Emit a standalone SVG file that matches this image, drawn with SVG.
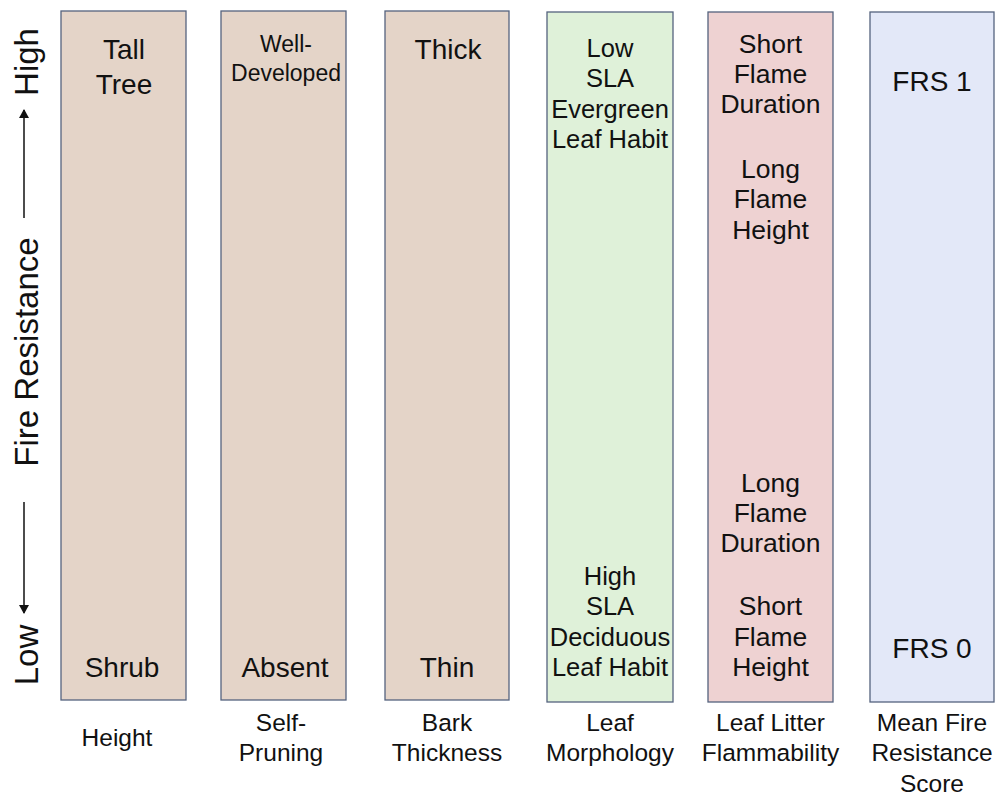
<svg xmlns="http://www.w3.org/2000/svg" width="999" height="798" viewBox="0 0 999 798">
<style>
text{font-family:"Liberation Sans",Arial,sans-serif;fill:#111;text-anchor:middle}
.col{stroke:#55637e;stroke-width:1.3}
.tan{fill:#e4d4c8}.grn{fill:#dff1d9}.pnk{fill:#eed2d2}.blu{fill:#e3e8f8}
.t28{font-size:28px}.t25{font-size:25.5px}.t26{font-size:26.5px}.t21{font-size:23px}.lab{font-size:24.5px}.ax{font-size:33px}
.arr{stroke:#111;stroke-width:1.5;fill:none}
</style>
<defs>
<marker id="ah" markerWidth="10" markerHeight="10" refX="8" refY="5" orient="auto" markerUnits="userSpaceOnUse">
<path d="M0,0 L9,5 L0,10 Z" fill="#111"/>
</marker>
</defs>
<g id="axis">
<text class="ax" transform="translate(38,62) rotate(-90)">High</text>
<text class="ax" transform="translate(38,352) rotate(-90)">Fire Resistance</text>
<text class="ax" transform="translate(38,655) rotate(-90)">Low</text>
</g>
<g id="connectors">
<line class="arr" x1="24" y1="218" x2="24" y2="110" marker-end="url(#ah)"/>
<line class="arr" x1="24" y1="502" x2="24" y2="613" marker-end="url(#ah)"/>
</g>
<g id="height">
<rect class="col tan" x="61" y="11" width="125" height="689"/>
<text class="t28" x="124" y="59">Tall</text>
<text class="t28" x="124" y="94">Tree</text>
<text class="t28" x="122" y="677">Shrub</text>
<text class="lab" x="117" y="746">Height</text>
</g>
<g id="self-pruning">
<rect class="col tan" x="221" y="11" width="125" height="689"/>
<text class="t21" x="286" y="52">Well-</text>
<text class="t21" x="286" y="81">Developed</text>
<text class="t28" x="285" y="677">Absent</text>
<text class="lab" x="281" y="731">Self-</text>
<text class="lab" x="281" y="761">Pruning</text>
</g>
<g id="bark">
<rect class="col tan" x="385" y="11" width="124" height="689"/>
<text class="t28" x="448" y="59">Thick</text>
<text class="t28" x="447" y="677">Thin</text>
<text class="lab" x="447" y="731">Bark</text>
<text class="lab" x="447" y="761">Thickness</text>
</g>
<g id="leaf-morphology">
<rect class="col grn" x="547" y="12" width="126" height="690"/>
<text class="t25" x="610" y="57">Low</text>
<text class="t25" x="610" y="87">SLA</text>
<text class="t25" x="610" y="118">Evergreen</text>
<text class="t25" x="610" y="148">Leaf Habit</text>
<text class="t25" x="610" y="585">High</text>
<text class="t25" x="610" y="615">SLA</text>
<text class="t25" x="610" y="646">Deciduous</text>
<text class="t25" x="610" y="676">Leaf Habit</text>
<text class="lab" x="610" y="731">Leaf</text>
<text class="lab" x="610" y="761">Morphology</text>
</g>
<g id="leaf-litter">
<rect class="col pnk" x="708" y="12" width="125" height="690"/>
<text class="t26" x="770.5" y="53">Short</text>
<text class="t26" x="770.5" y="83">Flame</text>
<text class="t26" x="770.5" y="113">Duration</text>
<text class="t26" x="770.5" y="178">Long</text>
<text class="t26" x="770.5" y="208">Flame</text>
<text class="t26" x="770.5" y="239">Height</text>
<text class="t26" x="770.5" y="492">Long</text>
<text class="t26" x="770.5" y="522">Flame</text>
<text class="t26" x="770.5" y="552">Duration</text>
<text class="t26" x="770.5" y="615">Short</text>
<text class="t26" x="770.5" y="646">Flame</text>
<text class="t26" x="770.5" y="676">Height</text>
<text class="lab" x="770.5" y="731">Leaf Litter</text>
<text class="lab" x="770.5" y="761">Flammability</text>
</g>
<g id="mean-frs">
<rect class="col blu" x="870" y="12" width="124" height="690"/>
<text class="t28" x="932" y="91">FRS 1</text>
<text class="t28" x="932" y="658">FRS 0</text>
<text class="lab" x="932" y="731">Mean Fire</text>
<text class="lab" x="932" y="761">Resistance</text>
<text class="lab" x="932" y="792">Score</text>
</g>
</svg>
